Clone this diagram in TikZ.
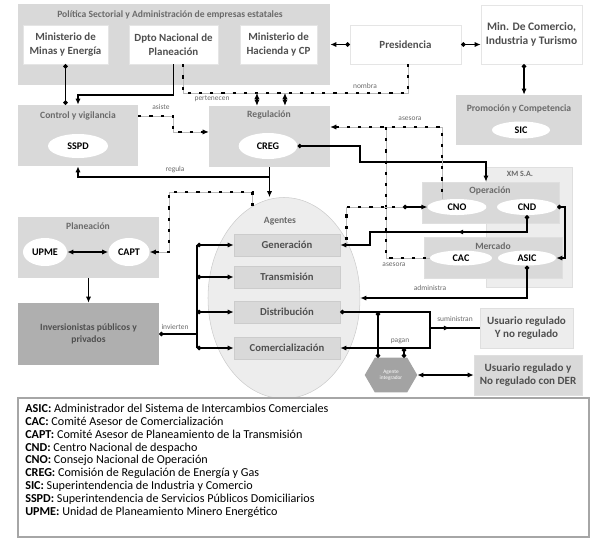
\documentclass[tikz,border=0pt]{standalone}
\usepackage{fontspec}
\setmainfont{Carlito}
\usetikzlibrary{arrows.meta}
\usetikzlibrary{shapes.geometric}
\usetikzlibrary{backgrounds}
\usetikzlibrary{decorations.markings}

\definecolor{panel}{HTML}{D9D9D9}
\definecolor{panellight}{HTML}{EDEDED}
\definecolor{invgray}{HTML}{AFAFAF}
\definecolor{hexgray}{HTML}{A3A3A3}
\definecolor{txtgray}{HTML}{4F4F4F}
\definecolor{ttlgray}{HTML}{6A6A6A}

\tikzset{
  every node/.style={align=center, inner sep=0pt, text=txtgray},
  tipdot/.tip={Circle[length=3.2pt]},
  tiparr/.tip={Latex[length=4.5pt,width=3.8pt]},
  panelbox/.style={fill=panel},
  lightbox/.style={fill=panellight, draw=gray!25},
  whitebox/.style={fill=white, draw=gray!20, font=\bfseries\fontsize{8.2}{10.5}\selectfont},
  agentbox/.style={fill=panel, draw=gray!40, minimum width=79.5pt, minimum height=16.5pt,
    font=\bfseries\fontsize{8}{9.6}\selectfont},
  userbox/.style={draw=gray!25, minimum width=69.75pt, minimum height=30pt,
    font=\bfseries\fontsize{8.3}{9.75}\selectfont},
  oval/.style={ellipse, fill=white, text=black, font=\bfseries\fontsize{7.6}{9}\selectfont},
  ttl/.style={text=ttlgray, font=\bfseries\fontsize{7.2}{8.6}\selectfont},
  lbl/.style={text=ttlgray, font=\fontsize{5.6}{6.6}\selectfont},
  conn/.style={draw=black, line width=1.2pt},
  dotline/.style={draw=black, line width=1.8pt, dash pattern=on 2.4pt off 6pt,
    preaction={draw=gray!55, line width=0.4pt, solid}},
  midarrow/.style={postaction={decorate, decoration={markings,
    mark=at position 0.4 with {\arrow{tiparr}}}}}
}

\begin{document}
\begin{tikzpicture}[x=0.75pt,y=-0.75pt]
  \useasboundingbox (0,0) rectangle (599,547);

  % politica sectorial
  \node[panelbox, minimum width=234pt, minimum height=60.75pt] (pol) at (174,44.5) {};
  \node[ttl] (polt) at (170,15) {Política Sectorial y Administración de empresas estatales};
  \node[whitebox, minimum width=63.75pt, minimum height=29.25pt] (minas) at (65.5,44.5) {Ministerio de\\Minas y Energía};
  \node[whitebox, minimum width=66.75pt, minimum height=29.25pt] (dnp) at (173.5,44.5) {Dpto Nacional de\\Planeación};
  \node[whitebox, minimum width=57.75pt, minimum height=29.25pt] (hac) at (278.5,44.5) {Ministerio de\\Hacienda y CP};
  \node[whitebox, minimum width=83.25pt, minimum height=29.25pt] (pres) at (405.5,44.5) {Presidencia};
  \node[whitebox, minimum width=75.75pt, minimum height=44.25pt,
        font=\bfseries\fontsize{8.6}{10.5}\selectfont] (mincom) at (531.5,34.5) {Min. De Comercio,\\Industria y Turismo};

  % control, regulacion, promocion
  \node[panelbox, minimum width=90pt, minimum height=45.75pt] (control) at (78,135.5) {};
  \node[ttl] (controlt) at (78,116) {Control y vigilancia};
  \node[oval, minimum width=45pt, minimum height=18pt] (sspd) at (78,146) {SSPD};
  \node[panelbox, minimum width=90.75pt, minimum height=45.75pt] (regul) at (269.5,136.5) {};
  \node[ttl] (regult) at (269,115) {Regulación};
  \node[oval, minimum width=44pt, minimum height=19.5pt] (creg) at (268,146) {CREG};
  \node[panelbox, minimum width=94.5pt, minimum height=37.5pt] (promo) at (519,120) {};
  \node[ttl] (promot) at (519,109) {Promoción y Competencia};
  \node[oval, minimum width=43.5pt, minimum height=12.75pt] (sic) at (521,130) {SIC};

  % planeacion e inversionistas
  \node[panelbox, minimum width=105.75pt, minimum height=45.75pt] (plan) at (88.5,247.5) {};
  \node[ttl] (plant) at (88,226) {Planeación};
  \node[oval, minimum width=33pt, minimum height=21pt] (upme) at (45,252) {UPME};
  \node[oval, minimum width=30.75pt, minimum height=21pt] (capt) at (129,252) {CAPT};
  \node[fill=invgray, minimum width=105.75pt, minimum height=46.5pt,
        font=\bfseries\fontsize{7.2}{9}\selectfont] (inv) at (88.5,334) {Inversionistas públicos y\\privados};

  % agentes
  \node[ellipse, fill=panellight, draw=gray!40, minimum width=114pt, minimum height=150.75pt] (agentes) at (284,298) {};
  \node[ttl] (agentest) at (280,221) {Agentes};
  \node[agentbox] (gen) at (287,245) {Generación};
  \node[agentbox] (trans) at (287,277) {Transmisión};
  \node[agentbox] (dist) at (287,312) {Distribución};
  \node[agentbox] (com) at (287,348) {Comercialización};

  % XM S.A.
  \node[lightbox, minimum width=64.5pt, minimum height=90pt] (xm) at (529,227) {};
  \node[ttl, font=\bfseries\fontsize{6}{7}\selectfont] (xmt) at (520,174) {XM S.A.};
  \node[panelbox, draw=gray!25, minimum width=102.75pt, minimum height=30.75pt] (oper) at (490.5,202.5) {};
  \node[ttl] (opert) at (490,191) {Operación};
  \node[oval, minimum width=44pt, minimum height=12pt] (cno) at (457,207) {CNO};
  \node[oval, minimum width=45pt, minimum height=12pt] (cnd) at (527,207) {CND};
  \node[panelbox, draw=gray!25, minimum width=103.5pt, minimum height=30.75pt] (merc) at (493,257.5) {};
  \node[ttl] (merct) at (493,246) {Mercado};
  \node[oval, minimum width=46.5pt, minimum height=11.25pt] (cac) at (461,258) {CAC};
  \node[oval, minimum width=43.5pt, minimum height=11.25pt] (asic) at (527,258) {ASIC};

  % usuarios
  \node[userbox, fill=panellight] (usr1) at (526.5,328) {Usuario regulado\\Y no regulado};
  \node[userbox, fill=panel, minimum width=81pt] (usr2) at (528,375) {Usuario regulado y\\No regulado con DER};
  \node[text=white, minimum width=39pt, minimum height=25.5pt,
        font=\fontsize{4}{4.8}\selectfont] (agint) at (391,375) {Agente\\integrador};
  \begin{scope}[on background layer]
    \fill[hexgray] (agint.west) -- ([xshift=7.5pt]agint.north west) -- ([xshift=-7.5pt]agint.north east)
      -- (agint.east) -- ([xshift=-7.5pt]agint.south east) -- ([xshift=7.5pt]agint.south west) -- cycle;
  \end{scope}

  % conexiones de arriba
  \draw[conn, tiparr-tipdot] (pol) -- (pres);
  \draw[conn, tipdot-tiparr] (pres.east) -- (pres.east -| mincom.west);
  \draw[conn, tipdot-tiparr] ([xshift=-5.6pt]mincom.south) -- ([xshift=-5.6pt]mincom.south |- promo.north);
  \draw[conn, tipdot-tipdot] (minas.south) -- (minas.south |- control.north);
  \draw[conn, -tiparr] (dnp.south) -- ++(0,31) -| (control.north);

  \coordinate (dn) at (183,93);
  \coordinate (pn) at (408,93);
  \draw[dotline] (dnp.south -| dn) -- (dn) -- (pn) -- (pn |- pres.south);
  \draw[dotline, tiparr-tiparr] ([xshift=-9.4pt]regul.north |- dn) -- ([xshift=-9.4pt]regul.north);
  \draw[dotline, tiparr-tiparr] ([xshift=11.6pt]regul.north |- dn) -- ([xshift=11.6pt]regul.north);
  \node[lbl] (pert) at (212,99) {pertenecen};
  \node[lbl] (nomb) at (365,86) {nombra};

  \coordinate (as) at (173,116);
  \draw[dotline, -tiparr] (control.east |- as) -- (as) |- ([yshift=3.4pt]regul.west);
  \node[lbl] (asis) at (161,107) {asiste};

  \coordinate (rg) at (269.5,177);
  \draw[conn, -tiparr] (regul.south) -- (rg) -| (control.south);
  \draw[conn, -tiparr] (rg) -- (rg |- agentes.north);
  \node[lbl] (regl) at (175,170) {regula};

  % planeacion
  \coordinate (ca) at (169,192);
  \draw[dotline, -tiparr] (agentes.109) |- (ca) |- (capt.east);
  \draw[conn, tiparr-tiparr] (upme) -- (capt);
  \draw[conn, -tiparr] (plan) -- (inv);

  \coordinate (bus) at (197,334);
  \draw[conn, tipdot-] (inv.east) -- (bus);
  \draw[conn] (bus |- gen) -- (bus |- com);
  \foreach \a in {gen,trans,dist,com}
    \draw[conn, tipdot-tiparr] (bus |- \a.west) -- (\a.west);
  \node[lbl] (invl) at (175,327) {invierten};

  % CREG y XM
  \coordinate (c1) at (360,162);
  \draw[conn, tipdot-tiparr] (creg.east) -| (c1) -| ([xshift=-3.4pt]oper.north);

  \coordinate (as1) at (386,127);
  \coordinate (as2) at (442,127);
  \draw[dotline, tiparr-] (regul.east |- as1) -- (as2) -- (as2 |- cno.north);
  \draw[dotline] (as1) |- (cac.west);
  \node[lbl] (ase1) at (410,119) {asesora};
  \node[lbl] (ase2) at (394,265) {asesora};

  \coordinate (cn1) at (403,207);
  \draw[dotline] (agentes.43) |- (cn1);
  \draw[conn, tipdot-tiparr] (cn1) -- (cno.west);

  \coordinate (g1) at (370,232);
  \draw[conn, tipdot-tiparr, midarrow] (cnd.south) |- (g1) |- (gen.east);

  \coordinate (x1) at (565,207);
  \draw[conn, tipdot-tiparr] (cnd.east) -- (x1) |- (asic.east);

  \draw[conn, tipdot-tiparr] (asic.south) |- (agentes.east);
  \node[lbl] (adm) at (430,288) {administra};

  % usuarios
  \coordinate (s2) at (430,348);
  \draw[conn, tipdot-tiparr] (dist.east) -| (s2) -- (com.east);
  \draw[conn, midarrow] (s2 |- usr1.west) -- (usr1.west);
  \node[lbl] (sum) at (455,319) {suministran};

  \coordinate (p1) at (378,312);
  \coordinate (p2) at (404,348);
  \draw[conn, tipdot-tipdot] (p1) -- (p1 |- agint.north);
  \draw[conn, tipdot-tipdot] (p2) -- (p2 |- agint.north);
  \node[lbl] (pag) at (400,341) {pagan};
  \draw[conn, line width=0.9pt, tiparr-tiparr] (agint) -- (usr2);

  % leyenda
  \node[draw=gray!70, line width=0.8pt, minimum width=428.25pt, minimum height=104.25pt] (leg) at (303.5,467.5) {};
  \node[anchor=north west, align=left, text=black, font=\fontsize{9.1}{9.7}\selectfont] (legt) at (25,403.5) {%
    \textbf{ASIC:} Administrador del Sistema de Intercambios Comerciales\\
    \textbf{CAC:} Comité Asesor de Comercialización\\
    \textbf{CAPT:} Comité Asesor de Planeamiento de la Transmisión\\
    \textbf{CND:} Centro Nacional de despacho\\
    \textbf{CNO:} Consejo Nacional de Operación\\
    \textbf{CREG:} Comisión de Regulación de Energía y Gas\\
    \textbf{SIC:} Superintendencia de Industria y Comercio\\
    \textbf{SSPD:} Superintendencia de Servicios Públicos Domiciliarios\\
    \textbf{UPME:} Unidad de Planeamiento Minero Energético};
\end{tikzpicture}
\end{document}
